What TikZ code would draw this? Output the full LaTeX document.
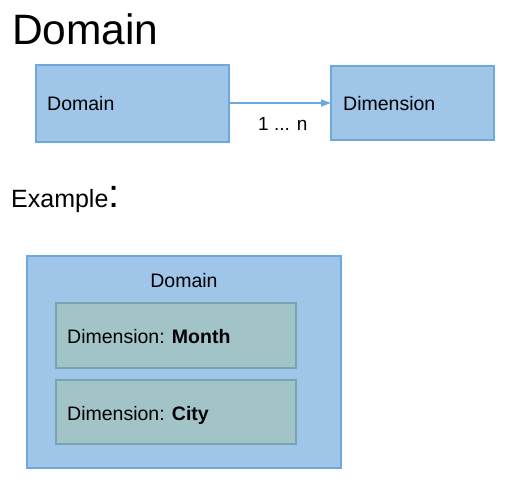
\documentclass[tikz,border=0pt]{standalone}
\usepackage{fontspec}
\setmainfont{Liberation Sans}
\usetikzlibrary{arrows.meta}
\definecolor{bluefill}{HTML}{9FC5E8}
\definecolor{blueline}{HTML}{6FA8DC}
\definecolor{tealfill}{HTML}{A2C4C9}
\definecolor{tealline}{HTML}{76A5AF}
\tikzset{
  bluebox/.style={draw=blueline, fill=bluefill, line width=1.5pt, inner sep=0pt},
  tealbox/.style={draw=tealline, fill=tealfill, line width=1.5pt, inner sep=0pt},
  lbl/.style={inner sep=0pt, anchor=base west},
}
\begin{document}
\begin{tikzpicture}[x=1pt, y=-1pt]
\useasboundingbox (0,0) rectangle (506,484);
% title
\node[lbl, font=\fontsize{42.5}{48}\selectfont] (title) at (12,45) {Domain};
% top diagram
\draw[bluebox] (36,65) rectangle (229,142);
\node (dom) at (132.5,103.5) [minimum width=193pt, minimum height=77pt] {};
\draw[bluebox] (331,66) rectangle (494,140);
\node (dim) at (412.5,103) [minimum width=163pt, minimum height=74pt] {};
\node[lbl, font=\fontsize{19.5}{22}\selectfont] (domt) at (47,111) {Domain};
\node[lbl, font=\fontsize{19.5}{22}\selectfont] (dimt) at (343,111) {Dimension};
\draw[draw=blueline, line width=1.5pt, -{Triangle[length=10pt, width=7pt]}] (229,103) -- (331,103);
\node[lbl, font=\fontsize{19}{22}\selectfont] (card) at (258,131) {1 ... n};
% example
\node[lbl, font=\fontsize{25}{30}\selectfont] (ex) at (11,207) {Example\fontsize{40}{44}\selectfont:};
% example diagram
\draw[bluebox] (27,256) rectangle (341,468);
\node (outer) at (184,362) [minimum width=314pt, minimum height=212pt] {};
\node[font=\fontsize{19.5}{22}\selectfont, inner sep=0pt, anchor=base] (outt) at (184,287) {Domain};
\draw[tealbox] (56,303) rectangle (296,368);
\node (m) at (176,335.5) [minimum width=240pt, minimum height=65pt] {};
\node[lbl, font=\fontsize{19.5}{22}\selectfont] (mt) at (67,343) {Dimension: \textbf{Month}};
\draw[tealbox] (56,380) rectangle (296,444);
\node (c) at (176,412) [minimum width=240pt, minimum height=64pt] {};
\node[lbl, font=\fontsize{19.5}{22}\selectfont] (ct) at (67,420) {Dimension: \textbf{City}};
\end{tikzpicture}
\end{document}
